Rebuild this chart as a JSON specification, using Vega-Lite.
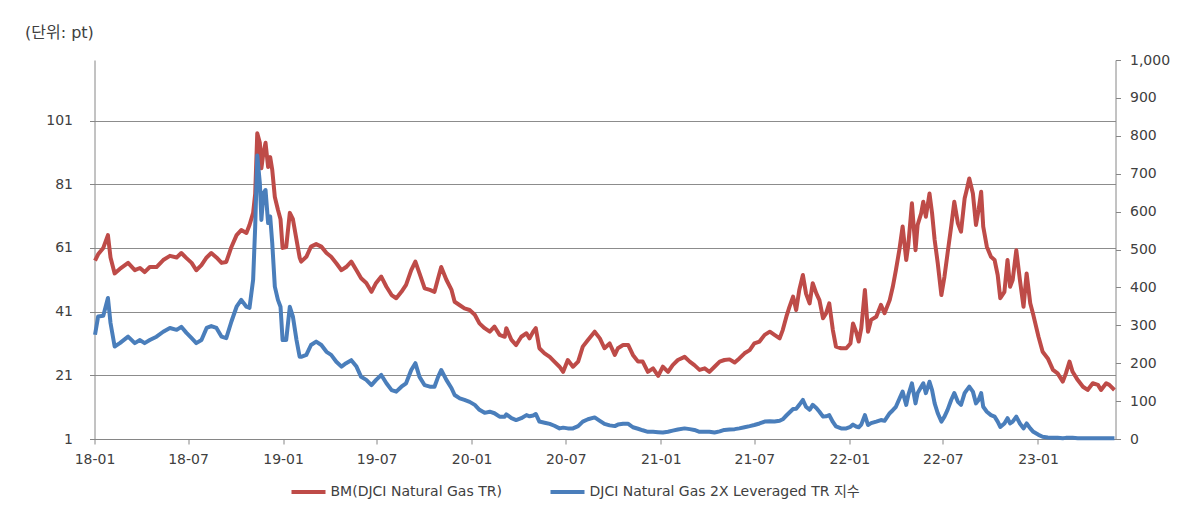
{
  "$schema": "https://vega.github.io/schema/vega-lite/v6.json",
  "width": 1021,
  "height": 379,
  "autosize": {"type": "none"},
  "padding": {"left": 94.5, "top": 60, "right": 77.5, "bottom": 93},
  "background": "white",
  "config": {
    "view": {"stroke": null},
    "font": "DejaVu Sans, Noto Sans CJK KR",
    "axis": {
      "labelFont": "DejaVu Sans, Noto Sans CJK KR",
      "labelFontSize": 14,
      "labelColor": "#404040",
      "domainColor": "#868686",
      "tickColor": "#868686",
      "gridColor": "#8c8c8c",
      "domainWidth": 1,
      "tickWidth": 1,
      "gridWidth": 1
    },
    "legend": {
      "labelFont": "DejaVu Sans, Noto Sans CJK KR",
      "labelFontSize": 14,
      "labelColor": "#404040",
      "labelLimit": 500
    }
  },
  "data": {
    "values": [
      {"date": "2018-01-02", "bm": 57, "lev": 275},
      {"date": "2018-01-08", "bm": 59, "lev": 323},
      {"date": "2018-01-18", "bm": 61, "lev": 325},
      {"date": "2018-01-27", "bm": 65, "lev": 372},
      {"date": "2018-02-01", "bm": 58, "lev": 306},
      {"date": "2018-02-09", "bm": 53, "lev": 244},
      {"date": "2018-02-19", "bm": 54.4, "lev": 253},
      {"date": "2018-03-07", "bm": 56.3, "lev": 270},
      {"date": "2018-03-20", "bm": 54, "lev": 253},
      {"date": "2018-03-30", "bm": 54.7, "lev": 261},
      {"date": "2018-04-08", "bm": 53.4, "lev": 253},
      {"date": "2018-04-18", "bm": 55, "lev": 261},
      {"date": "2018-05-01", "bm": 55, "lev": 270},
      {"date": "2018-05-14", "bm": 57.2, "lev": 283},
      {"date": "2018-05-27", "bm": 58.5, "lev": 293},
      {"date": "2018-06-09", "bm": 58, "lev": 288},
      {"date": "2018-06-18", "bm": 59.4, "lev": 296},
      {"date": "2018-06-28", "bm": 57.8, "lev": 280},
      {"date": "2018-07-08", "bm": 56.3, "lev": 266},
      {"date": "2018-07-17", "bm": 54, "lev": 253},
      {"date": "2018-07-27", "bm": 55.6, "lev": 261},
      {"date": "2018-08-06", "bm": 58, "lev": 293},
      {"date": "2018-08-15", "bm": 59.4, "lev": 298},
      {"date": "2018-08-25", "bm": 58, "lev": 293},
      {"date": "2018-09-04", "bm": 56.3, "lev": 270},
      {"date": "2018-09-13", "bm": 56.6, "lev": 266},
      {"date": "2018-09-23", "bm": 61.3, "lev": 310},
      {"date": "2018-10-03", "bm": 65, "lev": 349},
      {"date": "2018-10-12", "bm": 66.6, "lev": 367},
      {"date": "2018-10-22", "bm": 65.7, "lev": 349},
      {"date": "2018-10-28", "bm": 68.2, "lev": 346},
      {"date": "2018-11-04", "bm": 72, "lev": 420},
      {"date": "2018-11-08", "bm": 78, "lev": 560},
      {"date": "2018-11-12", "bm": 97, "lev": 748},
      {"date": "2018-11-17", "bm": 94, "lev": 675},
      {"date": "2018-11-20", "bm": 86, "lev": 578},
      {"date": "2018-11-24", "bm": 91, "lev": 649},
      {"date": "2018-11-28", "bm": 94, "lev": 657},
      {"date": "2018-12-03", "bm": 86.4, "lev": 570},
      {"date": "2018-12-07", "bm": 89.5, "lev": 587},
      {"date": "2018-12-11", "bm": 85.5, "lev": 517},
      {"date": "2018-12-16", "bm": 77, "lev": 402},
      {"date": "2018-12-22", "bm": 73, "lev": 367},
      {"date": "2018-12-27", "bm": 70, "lev": 349},
      {"date": "2018-12-31", "bm": 61, "lev": 261},
      {"date": "2019-01-07", "bm": 61.3, "lev": 261},
      {"date": "2019-01-14", "bm": 72, "lev": 349},
      {"date": "2019-01-20", "bm": 70, "lev": 323},
      {"date": "2019-01-27", "bm": 63.5, "lev": 261},
      {"date": "2019-02-02", "bm": 58, "lev": 217},
      {"date": "2019-02-05", "bm": 56.7, "lev": 217},
      {"date": "2019-02-15", "bm": 58.2, "lev": 222},
      {"date": "2019-02-24", "bm": 61.4, "lev": 248},
      {"date": "2019-03-06", "bm": 62.2, "lev": 257},
      {"date": "2019-03-16", "bm": 61.4, "lev": 248},
      {"date": "2019-03-26", "bm": 59.4, "lev": 230},
      {"date": "2019-04-04", "bm": 58.2, "lev": 222},
      {"date": "2019-04-14", "bm": 56.2, "lev": 204},
      {"date": "2019-04-24", "bm": 54, "lev": 191},
      {"date": "2019-05-03", "bm": 55, "lev": 200},
      {"date": "2019-05-13", "bm": 56.7, "lev": 208},
      {"date": "2019-05-23", "bm": 54, "lev": 191},
      {"date": "2019-06-01", "bm": 51.5, "lev": 164},
      {"date": "2019-06-11", "bm": 50, "lev": 156},
      {"date": "2019-06-21", "bm": 47.2, "lev": 142},
      {"date": "2019-06-30", "bm": 50, "lev": 156},
      {"date": "2019-07-10", "bm": 52, "lev": 169},
      {"date": "2019-07-20", "bm": 48.8, "lev": 147},
      {"date": "2019-07-30", "bm": 46.2, "lev": 129},
      {"date": "2019-08-08", "bm": 45.2, "lev": 125},
      {"date": "2019-08-18", "bm": 47.2, "lev": 138},
      {"date": "2019-08-27", "bm": 49.4, "lev": 147},
      {"date": "2019-09-06", "bm": 54, "lev": 182},
      {"date": "2019-09-14", "bm": 56.7, "lev": 200},
      {"date": "2019-09-22", "bm": 53, "lev": 164},
      {"date": "2019-10-02", "bm": 48.3, "lev": 142},
      {"date": "2019-10-12", "bm": 47.8, "lev": 138},
      {"date": "2019-10-21", "bm": 47.2, "lev": 138},
      {"date": "2019-10-28", "bm": 51.5, "lev": 164},
      {"date": "2019-11-03", "bm": 55, "lev": 182},
      {"date": "2019-11-13", "bm": 51, "lev": 156},
      {"date": "2019-11-23", "bm": 47.8, "lev": 134},
      {"date": "2019-11-29", "bm": 44.1, "lev": 116},
      {"date": "2019-12-09", "bm": 43, "lev": 107},
      {"date": "2019-12-18", "bm": 42, "lev": 103},
      {"date": "2019-12-28", "bm": 41.5, "lev": 98},
      {"date": "2020-01-07", "bm": 40, "lev": 90},
      {"date": "2020-01-16", "bm": 37.3, "lev": 77},
      {"date": "2020-01-26", "bm": 35.8, "lev": 69},
      {"date": "2020-02-05", "bm": 34.7, "lev": 72},
      {"date": "2020-02-14", "bm": 36.3, "lev": 68},
      {"date": "2020-02-24", "bm": 33.7, "lev": 59},
      {"date": "2020-03-05", "bm": 33.1, "lev": 59},
      {"date": "2020-03-08", "bm": 35.8, "lev": 65},
      {"date": "2020-03-18", "bm": 32.1, "lev": 55},
      {"date": "2020-03-27", "bm": 30.5, "lev": 50},
      {"date": "2020-04-06", "bm": 33.1, "lev": 55},
      {"date": "2020-04-16", "bm": 34.2, "lev": 63},
      {"date": "2020-04-22", "bm": 32.6, "lev": 60},
      {"date": "2020-04-29", "bm": 34.7, "lev": 62},
      {"date": "2020-05-04", "bm": 35.8, "lev": 66},
      {"date": "2020-05-11", "bm": 29.5, "lev": 46},
      {"date": "2020-05-21", "bm": 27.9, "lev": 43},
      {"date": "2020-05-31", "bm": 26.8, "lev": 40},
      {"date": "2020-06-09", "bm": 25.3, "lev": 35},
      {"date": "2020-06-19", "bm": 23.7, "lev": 28},
      {"date": "2020-06-26", "bm": 22.1, "lev": 30},
      {"date": "2020-07-05", "bm": 25.8, "lev": 28},
      {"date": "2020-07-15", "bm": 23.7, "lev": 28},
      {"date": "2020-07-25", "bm": 25.3, "lev": 34},
      {"date": "2020-08-03", "bm": 30, "lev": 46},
      {"date": "2020-08-13", "bm": 32.1, "lev": 52},
      {"date": "2020-08-26", "bm": 34.7, "lev": 57},
      {"date": "2020-09-05", "bm": 32.6, "lev": 48},
      {"date": "2020-09-14", "bm": 29.5, "lev": 40},
      {"date": "2020-09-24", "bm": 31, "lev": 36},
      {"date": "2020-10-04", "bm": 27.4, "lev": 34},
      {"date": "2020-10-10", "bm": 29.5, "lev": 38},
      {"date": "2020-10-20", "bm": 30.5, "lev": 40},
      {"date": "2020-10-30", "bm": 30.5, "lev": 40},
      {"date": "2020-11-08", "bm": 27.4, "lev": 31},
      {"date": "2020-11-18", "bm": 25.3, "lev": 27},
      {"date": "2020-11-27", "bm": 25.3, "lev": 23},
      {"date": "2020-12-07", "bm": 22.1, "lev": 19},
      {"date": "2020-12-17", "bm": 23.2, "lev": 19},
      {"date": "2020-12-27", "bm": 20.8, "lev": 18},
      {"date": "2021-01-05", "bm": 23.7, "lev": 17},
      {"date": "2021-01-15", "bm": 22.1, "lev": 19},
      {"date": "2021-01-24", "bm": 24.2, "lev": 22},
      {"date": "2021-02-03", "bm": 25.8, "lev": 25},
      {"date": "2021-02-16", "bm": 26.8, "lev": 28},
      {"date": "2021-02-26", "bm": 25.3, "lev": 26},
      {"date": "2021-03-07", "bm": 24.2, "lev": 24},
      {"date": "2021-03-17", "bm": 22.7, "lev": 19},
      {"date": "2021-03-27", "bm": 23.2, "lev": 19},
      {"date": "2021-04-05", "bm": 22.1, "lev": 19},
      {"date": "2021-04-15", "bm": 23.7, "lev": 17},
      {"date": "2021-04-25", "bm": 25.3, "lev": 20},
      {"date": "2021-05-04", "bm": 25.8, "lev": 24},
      {"date": "2021-05-14", "bm": 26, "lev": 25},
      {"date": "2021-05-24", "bm": 25, "lev": 26},
      {"date": "2021-06-02", "bm": 26.3, "lev": 28},
      {"date": "2021-06-12", "bm": 27.9, "lev": 31},
      {"date": "2021-06-22", "bm": 28.9, "lev": 34},
      {"date": "2021-07-01", "bm": 31, "lev": 37},
      {"date": "2021-07-11", "bm": 31.6, "lev": 41},
      {"date": "2021-07-21", "bm": 33.7, "lev": 46},
      {"date": "2021-07-31", "bm": 34.7, "lev": 47},
      {"date": "2021-08-09", "bm": 33.7, "lev": 46},
      {"date": "2021-08-19", "bm": 32.6, "lev": 48},
      {"date": "2021-08-25", "bm": 35.2, "lev": 52},
      {"date": "2021-09-01", "bm": 39.4, "lev": 62},
      {"date": "2021-09-07", "bm": 42.5, "lev": 70},
      {"date": "2021-09-14", "bm": 45.7, "lev": 79},
      {"date": "2021-09-20", "bm": 41.5, "lev": 80},
      {"date": "2021-09-26", "bm": 47.8, "lev": 90},
      {"date": "2021-10-03", "bm": 52.5, "lev": 103},
      {"date": "2021-10-09", "bm": 46.7, "lev": 85},
      {"date": "2021-10-16", "bm": 43.6, "lev": 77},
      {"date": "2021-10-22", "bm": 49.9, "lev": 90},
      {"date": "2021-10-29", "bm": 46.7, "lev": 82},
      {"date": "2021-11-04", "bm": 44.6, "lev": 72},
      {"date": "2021-11-11", "bm": 38.9, "lev": 59},
      {"date": "2021-11-17", "bm": 40.5, "lev": 60},
      {"date": "2021-11-23", "bm": 43.6, "lev": 63},
      {"date": "2021-11-30", "bm": 35.2, "lev": 45},
      {"date": "2021-12-06", "bm": 30, "lev": 33},
      {"date": "2021-12-16", "bm": 29.5, "lev": 28},
      {"date": "2021-12-26", "bm": 29.5, "lev": 28},
      {"date": "2022-01-03", "bm": 31, "lev": 32},
      {"date": "2022-01-08", "bm": 37.3, "lev": 38},
      {"date": "2022-01-14", "bm": 34.7, "lev": 33},
      {"date": "2022-01-19", "bm": 31.6, "lev": 31},
      {"date": "2022-01-24", "bm": 35.8, "lev": 38},
      {"date": "2022-01-31", "bm": 47.8, "lev": 63},
      {"date": "2022-02-06", "bm": 34.7, "lev": 37},
      {"date": "2022-02-12", "bm": 38.4, "lev": 42},
      {"date": "2022-02-22", "bm": 39.4, "lev": 46},
      {"date": "2022-03-03", "bm": 43.1, "lev": 50},
      {"date": "2022-03-10", "bm": 40.5, "lev": 48},
      {"date": "2022-03-20", "bm": 44.6, "lev": 68},
      {"date": "2022-03-26", "bm": 48.8, "lev": 76},
      {"date": "2022-04-01", "bm": 54, "lev": 85},
      {"date": "2022-04-08", "bm": 60.7, "lev": 107},
      {"date": "2022-04-14", "bm": 67.7, "lev": 125},
      {"date": "2022-04-21", "bm": 57.2, "lev": 90},
      {"date": "2022-04-25", "bm": 61.9, "lev": 116},
      {"date": "2022-05-02", "bm": 75, "lev": 147},
      {"date": "2022-05-09", "bm": 60.3, "lev": 94},
      {"date": "2022-05-13", "bm": 68.2, "lev": 121},
      {"date": "2022-05-20", "bm": 71.9, "lev": 138},
      {"date": "2022-05-24", "bm": 75.5, "lev": 147},
      {"date": "2022-05-29", "bm": 70.8, "lev": 121},
      {"date": "2022-06-05", "bm": 78.1, "lev": 151},
      {"date": "2022-06-10", "bm": 71.9, "lev": 129},
      {"date": "2022-06-15", "bm": 63.5, "lev": 94},
      {"date": "2022-06-21", "bm": 56.2, "lev": 68},
      {"date": "2022-06-28", "bm": 46.2, "lev": 46},
      {"date": "2022-07-04", "bm": 52, "lev": 59},
      {"date": "2022-07-10", "bm": 59.3, "lev": 77},
      {"date": "2022-07-17", "bm": 67.7, "lev": 103},
      {"date": "2022-07-23", "bm": 75.5, "lev": 121},
      {"date": "2022-07-30", "bm": 68.7, "lev": 98},
      {"date": "2022-08-05", "bm": 66.1, "lev": 90},
      {"date": "2022-08-12", "bm": 76.5, "lev": 121},
      {"date": "2022-08-16", "bm": 79.2, "lev": 129},
      {"date": "2022-08-21", "bm": 82.8, "lev": 138},
      {"date": "2022-08-28", "bm": 78.1, "lev": 125},
      {"date": "2022-09-03", "bm": 68.2, "lev": 94},
      {"date": "2022-09-08", "bm": 72.9, "lev": 103},
      {"date": "2022-09-13", "bm": 78.6, "lev": 121},
      {"date": "2022-09-17", "bm": 67.7, "lev": 85},
      {"date": "2022-09-24", "bm": 61.4, "lev": 72},
      {"date": "2022-10-02", "bm": 58.2, "lev": 63},
      {"date": "2022-10-09", "bm": 57.2, "lev": 59},
      {"date": "2022-10-15", "bm": 52.5, "lev": 46},
      {"date": "2022-10-20", "bm": 45.2, "lev": 32},
      {"date": "2022-10-28", "bm": 47.2, "lev": 41},
      {"date": "2022-11-03", "bm": 57.2, "lev": 55},
      {"date": "2022-11-08", "bm": 48.8, "lev": 41},
      {"date": "2022-11-13", "bm": 50.9, "lev": 46},
      {"date": "2022-11-20", "bm": 60.3, "lev": 59},
      {"date": "2022-11-27", "bm": 50.9, "lev": 41},
      {"date": "2022-12-04", "bm": 42.5, "lev": 28},
      {"date": "2022-12-10", "bm": 53, "lev": 41},
      {"date": "2022-12-17", "bm": 43.6, "lev": 28},
      {"date": "2022-12-23", "bm": 39.9, "lev": 19},
      {"date": "2023-01-02", "bm": 33.1, "lev": 11},
      {"date": "2023-01-10", "bm": 28.4, "lev": 6},
      {"date": "2023-01-20", "bm": 26.3, "lev": 4},
      {"date": "2023-01-30", "bm": 22.7, "lev": 3},
      {"date": "2023-02-08", "bm": 21.6, "lev": 3},
      {"date": "2023-02-18", "bm": 19, "lev": 2},
      {"date": "2023-02-24", "bm": 21.6, "lev": 3},
      {"date": "2023-03-03", "bm": 25.3, "lev": 3},
      {"date": "2023-03-09", "bm": 22.1, "lev": 3},
      {"date": "2023-03-19", "bm": 19.5, "lev": 2},
      {"date": "2023-03-29", "bm": 17.4, "lev": 2},
      {"date": "2023-04-07", "bm": 16.4, "lev": 2},
      {"date": "2023-04-17", "bm": 18.5, "lev": 2},
      {"date": "2023-04-27", "bm": 18, "lev": 2},
      {"date": "2023-05-03", "bm": 16.4, "lev": 2},
      {"date": "2023-05-13", "bm": 18.5, "lev": 2},
      {"date": "2023-05-19", "bm": 18, "lev": 2},
      {"date": "2023-05-29", "bm": 16.4, "lev": 2}
    ]
  },
  "encoding": {
    "x": {
      "field": "date",
      "type": "temporal",
      "scale": {
        "type": "utc",
        "domain": [
          {"year": 2018, "month": 1, "date": 1, "utc": true},
          {"year": 2023, "month": 5, "date": 31, "utc": true}
        ]
      },
      "axis": {
        "title": null,
        "labelExpr": "utcFormat(datum.value, '%y-%m')",
        "tickCount": {"interval": "month", "step": 6},
        "grid": false,
        "tickSize": 5,
        "labelPadding": 8,
        "labelFlush": false,
        "labelOverlap": false
      }
    }
  },
  "layer": [
    {
      "mark": {"type": "line", "strokeWidth": 4, "strokeJoin": "round"},
      "encoding": {
        "y": {
          "field": "bm",
          "type": "quantitative",
          "scale": {"domain": [1, 120], "nice": false, "zero": false},
          "axis": {
            "orient": "left",
            "values": [1, 21, 41, 61, 81, 101],
            "grid": true,
            "tickSize": 5,
            "labelPadding": 17,
            "title": "(단위: pt)",
            "titleAngle": 0,
            "titleAlign": "left",
            "titleBaseline": "middle",
            "titleX": -70,
            "titleY": -28,
            "titleFontSize": 16,
            "titleFontWeight": "normal",
            "titleColor": "#404040",
            "titleFont": "DejaVu Sans, Noto Sans CJK KR"
          }
        },
        "color": {
          "datum": "BM(DJCI Natural Gas TR)",
          "type": "nominal",
          "scale": {
            "domain": ["BM(DJCI Natural Gas TR)", "DJCI Natural Gas 2X Leveraged TR 지수"],
            "range": ["#BE4B48", "#4A7EBB"]
          },
          "legend": {
            "title": null,
            "orient": "none",
            "direction": "horizontal",
            "legendX": 195,
            "legendY": 413,
            "symbolType": "stroke",
            "symbolStrokeWidth": 4,
            "symbolSize": 1156,
            "labelOffset": 3,
            "columnPadding": 40
          }
        }
      }
    },
    {
      "mark": {"type": "line", "strokeWidth": 4, "strokeJoin": "round"},
      "encoding": {
        "y": {
          "field": "lev",
          "type": "quantitative",
          "scale": {"domain": [0, 1000], "nice": false},
          "axis": {
            "orient": "right",
            "values": [0, 100, 200, 300, 400, 500, 600, 700, 800, 900, 1000],
            "format": ",.0f",
            "grid": false,
            "tickSize": 5,
            "labelPadding": 9,
            "title": null
          }
        },
        "color": {"datum": "DJCI Natural Gas 2X Leveraged TR 지수", "type": "nominal"}
      }
    }
  ],
  "resolve": {"scale": {"y": "independent"}}
}
